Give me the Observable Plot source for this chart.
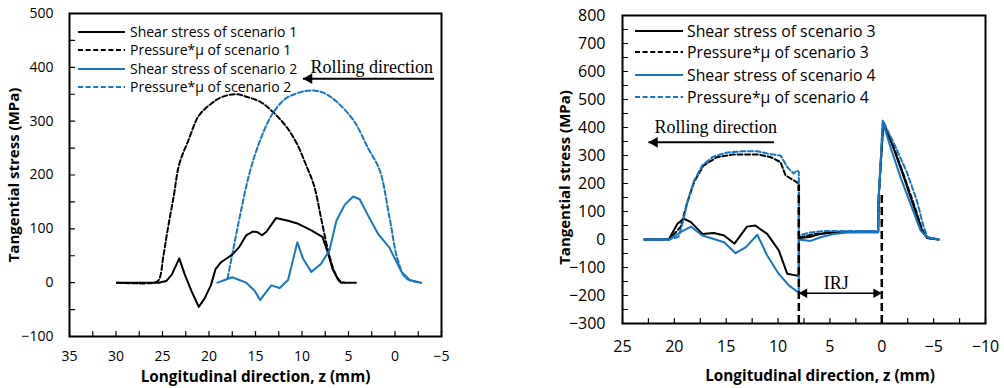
<!DOCTYPE html>
<html><head><meta charset="utf-8">
<script src="https://cdn.jsdelivr.net/npm/d3@7"></script>
<script src="https://cdn.jsdelivr.net/npm/@observablehq/plot@0.6"></script>
<style>
html,body{margin:0;padding:0;background:#fff;}
#wrap{position:relative;width:1004px;height:388px;overflow:hidden;font-family:"Open Sans",sans-serif;}
.panel{position:absolute;top:0;}
.legend{position:absolute;left:0;top:0;font-family:"Open Sans",sans-serif;color:#000;}
.legend .row{position:absolute;white-space:nowrap;display:flex;align-items:center;height:20px;}
.legend svg{display:block;}
</style></head><body><div id="wrap"></div><script>
const BLACK = "#000000";
const BLUE = "#1576c4";

// ---------- Left panel data ----------
const L_xTicks = [35, 30, 25, 20, 15, 10, 5, 0, -5];
const L_xMinor = [35, 32.5, 30, 27.5, 25, 22.5, 20, 17.5, 15, 12.5, 10, 7.5, 5, 2.5, 0, -2.5, -5];
const L_yTicks = [-100, 0, 100, 200, 300, 400, 500];
const L_yMinor = [-100, -50, 0, 50, 100, 150, 200, 250, 300, 350, 400, 450, 500];

const s1X = [29.9, 25.4, 24.6, 24.0, 23.2, 22.6, 21.9, 21.1, 20.5, 19.8, 19.3, 18.7, 17.5, 16.8, 16.0, 15.3, 14.8, 14.3, 13.8, 12.8, 11.5, 10.5, 9.0, 7.8, 7.3, 6.7, 6.1, 5.8, 4.2];
const s1Y = [0, 0, 3, 15, 45, 15, -15, -45, -30, -5, 25, 38, 52, 65, 88, 95, 94, 88, 95, 120, 115, 110, 97, 85, 60, 25, 5, 0, 0];
const p1X = [29.9, 25.9, 25.4, 24.9, 24.5, 23.8, 23.2, 22.2, 21.1, 19.8, 18.6, 17.1, 15.9, 14.4, 13.0, 11.7, 10.6, 9.6, 8.7, 7.95, 7.2, 6.5, 5.9, 5.4];
const p1Y = [0, 0, 5, 50, 93, 160, 220, 265, 310, 332, 345, 350, 345, 335, 315, 290, 260, 220, 180, 120, 60, 20, 3, 0];
const s2X = [19.1, 17.5, 16.0, 15.1, 14.5, 13.3, 12.4, 11.5, 10.5, 9.9, 9.0, 7.95, 7.05, 6.3, 5.4, 4.5, 3.8, 2.9, 1.8, 0.6, -0.7, -1.6, -2.8];
const s2Y = [0, 10, 0, -15, -32, -5, -10, 5, 75, 45, 20, 35, 60, 115, 145, 160, 155, 125, 90, 65, 20, 5, 0];
const p2X = [18.0, 17.3, 16.6, 15.7, 14.6, 13.3, 11.9, 10.5, 9.0, 7.6, 6.2, 4.4, 2.9, 1.65, 0.6, -0.3, -1.2, -2.8];
const p2Y = [8, 70, 130, 200, 260, 310, 340, 352, 357, 352, 335, 300, 250, 209, 122, 42, 8, 0];

const L_names = ["Shear stress of scenario 1", "Pressure*μ of scenario 1", "Shear stress of scenario 2", "Pressure*μ of scenario 2"];

// ---------- Right panel data ----------
const R_xTicks = [25, 20, 15, 10, 5, 0, -5, -10];
const R_xMinor = [25, 22.5, 20, 17.5, 15, 12.5, 10, 7.5, 5, 2.5, 0, -2.5, -5, -7.5, -10];
const R_yTicks = [-300, -200, -100, 0, 100, 200, 300, 400, 500, 600, 700, 800];
const R_yMinor = [-300, -250, -200, -150, -100, -50, 0, 50, 100, 150, 200, 250, 300, 350, 400, 450, 500, 550, 600, 650, 700, 750, 800];

const s3X = [22.9, 21.0, 20.5, 19.7, 19.1, 18.4, 17.3, 16.2, 15.2, 14.2, 13.0, 12.2, 11.05, 9.93, 9.12, 8.15, 8.0, 8.0, 6.87, 5.9, 4.6, 0.77, 0.35, 0.3, -0.15, -1.1, -2.1, -3.1, -3.9, -4.4, -5.5];
const s3Y = [0, 0, 3, 56, 74, 62, 20, 23, 14, -15, 46, 50, 20, -39, -122, -129, -130, 4, 10, 20, 26, 28, 27, 150, 418, 330, 225, 115, 28, 5, 0];
const p3X = [22.9, 20.5, 19.4, 18.8, 18.1, 17.2, 15.9, 14.3, 12.0, 10.7, 9.76, 9.28, 8.48, 8.0, 8.0, 6.55, 4.6, 0.77, 0.35, 0.3, -0.15, -1.1, -2.1, -3.1, -3.9, -4.4, -5.5];
const p3Y = [0, 0, 45, 127, 205, 264, 294, 304, 304, 294, 276, 229, 211, 200, 7, 19, 26, 28, 27, 150, 420, 335, 232, 125, 35, 5, 0];
const s4X = [22.9, 20.5, 19.4, 18.4, 17.3, 16.2, 15.2, 14.1, 13.1, 12.0, 11.05, 9.93, 8.96, 8.0, 8.0, 6.87, 5.9, 4.6, 3.3, 0.77, 0.35, 0.3, -0.1, -0.84, -1.81, -2.77, -3.74, -4.4, -5.5];
const s4Y = [0, 0, 26, 46, 14, 2, -10, -49, -27, 17, -57, -123, -164, -190, 0, -5, 8, 20, 25, 26, 25, 150, 419, 330, 222, 127, 32, 8, 0];
const p4X = [22.9, 20.5, 19.6, 19.2, 18.7, 18.1, 17.3, 16.3, 15.0, 13.5, 12.0, 10.8, 9.76, 9.1, 8.5, 8.15, 8.0, 8.0, 6.9, 5.6, 0.77, 0.35, 0.3, -0.1, -1.3, -2.4, -3.4, -4.0, -4.4, -5.5];
const p4Y = [0, 0, 10, 60, 140, 210, 265, 295, 310, 315, 315, 305, 300, 258, 236, 247, 241, 15, 25, 30, 30, 28, 150, 425, 333, 242, 137, 50, 8, 0];

const R_names = ["Shear stress of scenario 3", "Pressure*μ of scenario 3", "Shear stress of scenario 4", "Pressure*μ of scenario 4"];

// ---------- Annotations ----------
const L_rollText = {x: 2.5, y: 401, label: "Rolling direction"};
const L_rollArrow = {x1: -4.2, x2: 9.9, y: 379};
const R_rollText = {x: 16.0, y: 400, label: "Rolling direction"};
const R_rollArrow = {x1: 10.4, x2: 22.5, y: 347};
const R_irjLines = [{x: 8, y1: -300, y2: 195}, {x: 0, y1: -300, y2: 160}];
const R_irjArrow = {x1: 8, x2: 0, y: -192};
const R_irjText = {x: 4.4, y: -156, label: "IRJ"};

const xTitle = "Longitudinal direction, z (mm)";
const yTitle = "Tangential stress (MPa)";

function rows(xs, ys) { return xs.map((x, i) => ({x, y: ys[i]})); }

function styleLines(series) {
  return series.map(s => Plot.line(rows(s.x, s.y), {x: "x", y: "y", stroke: s.color, strokeWidth: 2, strokeDasharray: s.dash ? "5,2.6" : null, curve: s.curve || "linear"}));
}

function headMarks(x, y, dir, r) {
  // filled triangular arrowhead; dir -1 points left, +1 points right
  const off = 2 * Math.sqrt((r * r * Math.PI) / (Math.sqrt(3) * 3));
  return Plot.dot([{x, y}], {x: "x", y: "y", symbol: "triangle", r, fill: "#000", stroke: null, rotate: dir < 0 ? -90 : 90, dx: dir < 0 ? off : -off});
}

const tickShape = {draw(ctx, l) { ctx.moveTo(0, 0); ctx.lineTo(0, -l); }};

function panel(cfg) {
  const marks = [
    Plot.axisX({ticks: cfg.xTicks, tickSize: 0, tickPadding: cfg.xPad, fontSize: cfg.tickFont, label: null}),
    Plot.axisY({ticks: cfg.yTicks, tickSize: 0, tickPadding: cfg.yPad, fontSize: cfg.tickFont, label: null}),
    Plot.vector(cfg.xMinor, {x: d => d, frameAnchor: "bottom", length: 5, rotate: 0, anchor: "start", shape: tickShape, stroke: "#000", strokeWidth: 1.2}),
    Plot.vector(cfg.yMinor, {y: d => d, frameAnchor: "left", length: 5, rotate: 90, anchor: "start", shape: tickShape, stroke: "#000", strokeWidth: 1.2}),
    ...styleLines(cfg.series),
    ...cfg.extraAfter,
    Plot.frame({stroke: "#000", strokeWidth: 2}),
    Plot.text([xTitle], {frameAnchor: "bottom", textAnchor: "middle", lineAnchor: "middle", dx: cfg.xTitleDx, dy: cfg.xTitleDy, fontWeight: "bold", fontSize: 15.3, fill: "#000"}),
    Plot.text([yTitle], {frameAnchor: "left", textAnchor: "middle", lineAnchor: "middle", rotate: -90, dx: cfg.yTitleDx, dy: cfg.yTitleDy, fontWeight: "bold", fontSize: 15, fill: "#000"})
  ];
  return Plot.plot({
    width: cfg.width, height: cfg.height,
    marginLeft: cfg.mL, marginRight: cfg.mR, marginTop: cfg.mT, marginBottom: cfg.mB,
    x: {domain: cfg.xDomain, label: null},
    y: {domain: cfg.yDomain, label: null},
    style: {fontFamily: "'Open Sans', sans-serif", fontSize: cfg.tickFont + "px", color: "#000", background: "transparent", overflow: "visible"},
    marks
  });
}

function rollMarks(t, a, dir) {
  return [
    Plot.text([t], {x: "x", y: "y", text: "label", fontFamily: "'Liberation Serif', 'Times New Roman', serif", fontSize: 18, fill: "#000"}),
    Plot.link([a], {x1: "x1", x2: "x2", y1: "y", y2: "y", stroke: "#000", strokeWidth: 2}),
    headMarks(a.x2, a.y, dir, 4)
  ];
}

const wrap = document.getElementById("wrap");

const left = panel({
  width: 460, height: 388, mL: 69, mR: 19, mT: 13, mB: 52,
  xDomain: [35, -5], yDomain: [-100, 500],
  xTicks: L_xTicks, xMinor: L_xMinor, yTicks: L_yTicks, yMinor: L_yMinor,
  tickFont: 14, xPad: 15, yPad: 16,
  xTitleDx: 0, xTitleDy: 41, yTitleDx: -55, yTitleDy: 0,
  series: [
    {x: p1X, y: p1Y, color: BLACK, dash: true, curve: "catmull-rom"},
    {x: p2X, y: p2Y, color: BLUE, dash: true, curve: "catmull-rom"},
    {x: s1X, y: s1Y, color: BLACK, dash: false},
    {x: s2X, y: s2Y, color: BLUE, dash: false}
  ],
  extraAfter: rollMarks(L_rollText, L_rollArrow, -1)
});

const right = panel({
  width: 464, height: 388, mL: 82, mR: 19, mT: 15, mB: 65,
  xDomain: [25, -10], yDomain: [-300, 800],
  xTicks: R_xTicks, xMinor: R_xMinor, yTicks: R_yTicks, yMinor: R_yMinor,
  tickFont: 16, xPad: 17, yPad: 17,
  xTitleDx: 16, xTitleDy: 53, yTitleDx: -57, yTitleDy: 8,
  series: [
    {x: s3X, y: s3Y, color: BLACK, dash: false},
    {x: p3X, y: p3Y, color: BLACK, dash: true},
    {x: s4X, y: s4Y, color: BLUE, dash: false},
    {x: p4X, y: p4Y, color: BLUE, dash: true}
  ],
  extraAfter: [
    Plot.ruleX(R_irjLines, {x: "x", y1: "y1", y2: "y2", stroke: "#000", strokeWidth: 2.5, strokeDasharray: "8,4"}),
    Plot.link([R_irjArrow], {x1: "x1", x2: "x2", y1: "y", y2: "y", stroke: "#000", strokeWidth: 1.6}),
    headMarks(R_irjArrow.x1, R_irjArrow.y, -1, 3.6),
    headMarks(R_irjArrow.x2, R_irjArrow.y, 1, 3.6),
    Plot.text([R_irjText], {x: "x", y: "y", text: "label", fontFamily: "'Liberation Serif', 'Times New Roman', serif", fontSize: 18, fill: "#000"}),
    ...rollMarks(R_rollText, R_rollArrow, -1)
  ]
});

function addPanel(svg, leftPx) {
  const d = document.createElement("div");
  d.className = "panel";
  d.style.left = leftPx + "px";
  d.appendChild(svg);
  wrap.appendChild(d);
}
addPanel(left, 0);
addPanel(right, 540);

function addLegend(names, colors, dashes, cfg) {
  const lg = document.createElement("div");
  lg.className = "legend";
  lg.style.fontSize = cfg.font + "px";
  names.forEach((n, i) => {
    const r = document.createElement("div");
    r.className = "row";
    r.style.left = cfg.left + "px";
    r.style.top = (cfg.tops[i] - 10) + "px";
    const svgNS = "http://www.w3.org/2000/svg";
    const s = document.createElementNS(svgNS, "svg");
    s.setAttribute("width", cfg.lineW);
    s.setAttribute("height", 6);
    const ln = document.createElementNS(svgNS, "line");
    ln.setAttribute("x1", 0); ln.setAttribute("x2", cfg.lineW);
    ln.setAttribute("y1", 3); ln.setAttribute("y2", 3);
    ln.setAttribute("stroke", colors[i]);
    ln.setAttribute("stroke-width", 2);
    if (dashes[i]) ln.setAttribute("stroke-dasharray", "5,2.6");
    s.appendChild(ln);
    r.appendChild(s);
    const t = document.createElement("span");
    t.textContent = n;
    t.style.marginLeft = cfg.gap + "px";
    t.style.lineHeight = "20px";
    r.appendChild(t);
    lg.appendChild(r);
  });
  wrap.appendChild(lg);
}
addLegend(L_names, [BLACK, BLACK, BLUE, BLUE], [false, true, false, true], {left: 78, lineW: 47, gap: 5, tops: [32, 50, 69, 87], font: 14});
addLegend(R_names, [BLACK, BLACK, BLUE, BLUE], [false, true, false, true], {left: 635, lineW: 48, gap: 4, tops: [31, 52, 75, 97], font: 15.8});
</script></body></html>
